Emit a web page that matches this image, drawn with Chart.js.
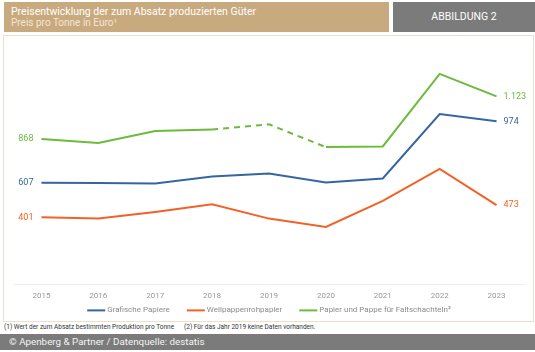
<!DOCTYPE html>
<html>
<head>
<meta charset="utf-8">
<script src="https://cdn.jsdelivr.net/npm/chart.js@4"></script>
<style>
  body { margin: 0; width: 535px; height: 352px; background: #fff; font-family: Roboto, sans-serif; position: relative; overflow: hidden; }
  #head { position: absolute; left: 4px; top: 2px; width: 385px; height: 30px; background: #c9aa7e; }
  #title { position: absolute; left: 7px; top: 3px; color: #fff; font-size: 10.5px; }
  #sub { position: absolute; left: 7px; top: 15px; color: #f1e6d6; font-size: 10px; }
  #fig { position: absolute; left: 393px; top: 2px; width: 142px; height: 30px; background: #7b7b7b; color: #fff; font-size: 10.5px; text-align: center; line-height: 30px; }
  #box { position: absolute; left: 3px; top: 35px; width: 529px; height: 285px; border: 1px solid #ecdfcd; }
  #wrap { position: absolute; left: 0; top: 35px; width: 535px; height: 287px; }
  #notes { position: absolute; left: 4px; top: 323px; font-size: 6.5px; color: #333; }
  #notes span { margin-right: 10px; }
  #foot { position: absolute; left: 0; top: 334px; width: 535px; height: 16px; background: #7b7b7b; color: #f4f4f4; font-size: 9.8px; line-height: 16px; padding-left: 9px; box-sizing: border-box; }
</style>
</head>
<body>
<div id="head"><div id="title">Preisentwicklung der zum Absatz produzierten Güter</div><div id="sub">Preis pro Tonne in Euro¹</div></div>
<div id="fig">ABBILDUNG 2</div>
<div id="box"></div>
<div id="wrap"><canvas id="c" width="535" height="287"></canvas></div>
<div id="notes"><span>(1) Wert der zum Absatz bestimmten Produktion pro Tonne</span><span>(2) Für das Jahr 2019 keine Daten vorhanden.</span></div>
<div id="foot">© Apenberg &amp; Partner / Datenquelle: destatis</div>
<script>
var years = ['2015', '2016', '2017', '2018', '2019', '2020', '2021', '2022', '2023'];
var grafisch = [607, 606, 603, 644, 663, 609, 633, 1017, 974];
var wellpappe = [401, 393, 433, 479, 393, 343, 499, 690, 473];
var faltschachtel = [868, 844, 916, 925, 956, 820, 824, 1257, 1123];

var blue = '#3566a1', orange = '#f26227', green = '#6cbb3c';

function fmt(v) { return String(v).replace(/\B(?=(\d{3})+(?!\d))/g, '.'); }

// first / last values next to the line ends
var endLabels = {
  id: 'endLabels',
  afterDatasetsDraw: function(chart) {
    var ctx = chart.ctx;
    ctx.save();
    ctx.font = '9px Roboto';
    ctx.textBaseline = 'middle';
    chart.data.datasets.forEach(function(ds, i) {
      var pts = chart.getDatasetMeta(i).data;
      var first = pts[0], last = pts[pts.length - 1];
      ctx.fillStyle = ds.borderColor;
      ctx.textAlign = 'right';
      ctx.fillText(fmt(ds.data[0]), first.x - 8, first.y);
      ctx.textAlign = 'left';
      ctx.fillText(fmt(ds.data[ds.data.length - 1]), last.x + 7, last.y);
    });
    ctx.restore();
  }
};

// compact legend under the axis (built-in one spaces rows too loosely)
var lineLegend = {
  id: 'lineLegend',
  afterDraw: function(chart) {
    var ctx = chart.ctx, area = chart.chartArea;
    var lineW = 18, gap = 2, itemGap = 17;
    ctx.save();
    ctx.font = '8px Roboto';
    ctx.textBaseline = 'middle';
    var widths = chart.data.datasets.map(function(ds) { return ctx.measureText(ds.label).width; });
    var total = widths.reduce(function(a, w) { return a + lineW + gap + w; }, 0) + itemGap * (widths.length - 1);
    var x = (area.left + area.right) / 2 - total / 2;
    var y = area.bottom + 26;
    chart.data.datasets.forEach(function(ds, i) {
      ctx.strokeStyle = ds.borderColor;
      ctx.lineWidth = 2;
      ctx.beginPath();
      ctx.moveTo(x, y);
      ctx.lineTo(x + lineW, y);
      ctx.stroke();
      ctx.fillStyle = '#8c8c8c';
      ctx.textAlign = 'left';
      ctx.fillText(ds.label, x + lineW + gap, y);
      x += lineW + gap + widths[i] + itemGap;
    });
    ctx.restore();
  }
};

new Chart(document.getElementById('c'), {
  type: 'line',
  data: {
    labels: years,
    datasets: [
      { label: 'Grafische Papiere', data: grafisch, borderColor: blue, backgroundColor: blue },
      { label: 'Wellpappenrohpapier', data: wellpappe, borderColor: orange, backgroundColor: orange },
      { label: 'Papier und Pappe für Faltschachteln²', data: faltschachtel, borderColor: green, backgroundColor: green,
        segment: { borderDash: function(c) { return (c.p0DataIndex >= 3 && c.p1DataIndex <= 5) ? [6, 5] : undefined; } } }
    ]
  },
  options: {
    responsive: false,
    animation: false,
    elements: { line: { borderWidth: 2, tension: 0 }, point: { radius: 0 } },
    layout: { padding: { left: 13, right: 10, top: 15, bottom: 15 } },
    scales: {
      x: {
        offset: true,
        grid: { display: false, drawTicks: false },
        border: { color: '#eeeeee' },
        ticks: { color: '#999', font: { size: 8, family: 'Roboto' }, padding: 6.5 }
      },
      y: { display: false, min: 0, max: 1400 }
    },
    plugins: {
      legend: { display: false },
      tooltip: { enabled: false }
    }
  },
  plugins: [endLabels, lineLegend]
});
</script>
</body>
</html>
